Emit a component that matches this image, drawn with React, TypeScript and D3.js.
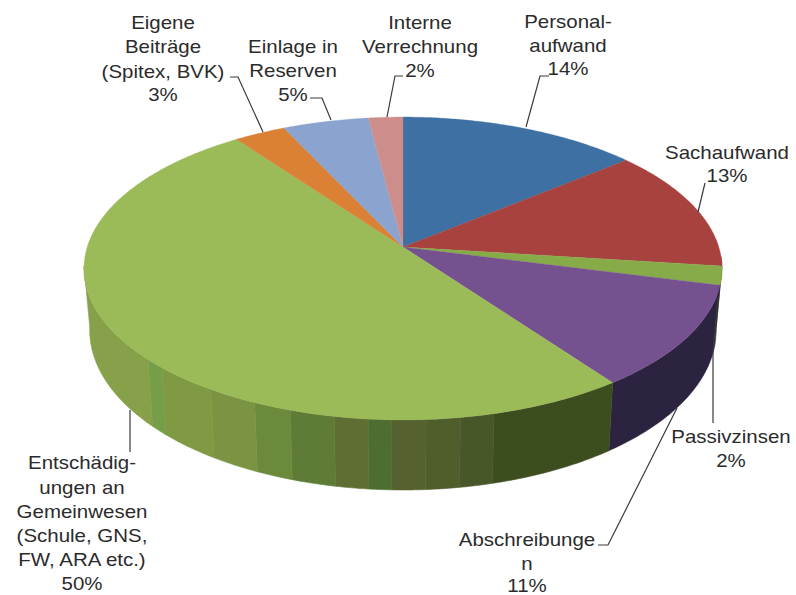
import React from "react";
import * as d3 from "d3";

// Budget shares in percent, clockwise from twelve o'clock.
const sliceNames = [
  "Personalaufwand",
  "Sachaufwand",
  "Passivzinsen",
  "Abschreibungen",
  "Entschädigungen",
  "Eigene Beiträge",
  "Einlage in Reserven",
  "Interne Verrechnung",
];
const sliceValues = [14, 13, 2, 11, 50, 3, 5, 2];
const sliceColors = ["#3e70a4", "#a8423f", "#87ab48", "#76518f", "#9bbb59", "#db8136", "#8aa3cf", "#cd8d8a"];
const wallColors = ["#2c4a6c", "#6e2b29", "#55702c", "#2c2340", "#3c4d20", "#8f5320", "#5a6b88", "#855a58"];

// Shaded strips on the large slice's wall: cumulative percent where each strip ends.
const stripEnds = [46, 47.5, 49, 50.5, 51.5, 53, 55, 56.7, 59, 62, 63, 75];
const stripColors = [
  "#3c4d20", "#48572a", "#4f5e2b", "#55622f", "#4e6d30", "#5f6f33",
  "#5f7c36", "#6b8a3c", "#7a9444", "#7f9a42", "#769e48", "#87a04a",
];

const labelLines = [
  ["Personal-", "aufwand", "14%"],
  ["Sachaufwand", "13%"],
  ["Passivzinsen", "2%"],
  ["Abschreibunge", "n", "11%"],
  ["Entschädig-", "ungen an", "Gemeinwesen", "(Schule, GNS,", "FW, ARA etc.)", "50%"],
  ["Eigene", "Beiträge", "(Spitex, BVK)", "3%"],
  ["Einlage in", "Reserven", "5%"],
  ["Interne", "Verrechnung", "2%"],
];

// Label placement: centre x, baseline of each line.
const labelAnchors: [number, number[]][] = [
  [568, [28, 52, 75]],
  [727, [159, 182]],
  [731, [443, 467]],
  [527, [546, 570, 592]],
  [82, [469, 494, 518, 542, 566, 590]],
  [163, [29, 53, 78, 101]],
  [293, [53, 77, 101]],
  [420, [29, 53, 77]],
];

const leaderPaths: [number, number][][] = [
  [[526, 127], [540, 76], [549, 76]],
  [[698, 212], [705, 183]],
  [[718, 297], [713, 353], [713, 423]],
  [[677, 408], [608, 545], [598, 545]],
  [[130, 410], [130, 452]],
  [[263, 132], [238, 77], [230, 77]],
  [[331, 120], [322, 98], [310, 98]],
  [[387, 117], [395, 76], [403, 76]],
];

// Perspective projection of the pie's top disc.
const centerX = 403;
const centerY = 247;
const radiusX = 315.8;
const radiusY = 148.4;
const tilt = 0.142;

function topPoint(a: number): [number, number] {
  const w = 1 + tilt * Math.cos(a);
  return [centerX + (radiusX * Math.sin(a)) / w, centerY - (radiusY * Math.cos(a)) / w];
}

function bottomPoint(a: number): [number, number] {
  const [x, y] = topPoint(a);
  const depth = 60 - 10 * Math.cos(a);
  return [centerX + (x - centerX) * 0.982, y + depth];
}

const rad = (pct: number) => (pct / 100) * 2 * Math.PI;
const line = d3.line<[number, number]>();

function samples(a0: number, a1: number): number[] {
  const n = Math.max(2, Math.ceil(Math.abs(a1 - a0) / 0.01));
  return d3.range(n + 1).map((i) => a0 + ((a1 - a0) * i) / n);
}

function wallPath(a0: number, a1: number): string {
  const pts = samples(a0, a1);
  return line([...pts.map(topPoint), ...pts.slice().reverse().map(bottomPoint)]) + "Z";
}

export default function App() {
  const arcs = d3.pie<number>().sort(null).startAngle(0).endAngle(2 * Math.PI)(sliceValues);
  const wallStart = rad(26);
  const wallEnd = rad(73);

  // Walls of the slices facing the viewer, except the large one, which is striped.
  const plainWalls = arcs
    .map((d, i) => ({ i, a0: Math.max(d.startAngle, wallStart), a1: Math.min(d.endAngle, wallEnd) }))
    .filter((w) => w.a1 > w.a0 && w.i !== 4);
  const largeStart = arcs[4].startAngle;
  const strips = stripEnds.map((end, i) => ({
    a0: i === 0 ? largeStart : rad(stripEnds[i - 1]),
    a1: Math.min(rad(end), wallEnd),
    color: stripColors[i],
  }));

  const font = "'Liberation Sans', Arial, sans-serif";

  return (
    <svg
      width={796}
      height={595}
      viewBox="0 0 796 595"
      style={{ position: "absolute", left: 0, top: 0, background: "#fff" }}
    >
      <g>
        {plainWalls.map((w) => (
          <path
            key={sliceNames[w.i]}
            d={wallPath(w.a0, w.a1)}
            fill={wallColors[w.i]}
            stroke={wallColors[w.i]}
            strokeWidth={0.4}
          />
        ))}
        {strips.map((s) => (
          <path key={s.color + s.a0} d={wallPath(s.a0, s.a1)} fill={s.color} stroke={s.color} strokeWidth={0.6} />
        ))}
      </g>
      <g>
        {arcs.map((d, i) => (
          <path
            key={sliceNames[i]}
            d={line([[centerX, centerY], ...samples(d.startAngle, d.endAngle).map(topPoint)]) + "Z"}
            fill={sliceColors[i]}
            stroke={sliceColors[i]}
            strokeWidth={0.3}
          />
        ))}
      </g>
      <g fill="none" stroke="#3a3a3a" strokeWidth={1.2}>
        {leaderPaths.map((p, i) => (
          <path key={i} d={line(p) ?? ""} />
        ))}
      </g>
      <g fontFamily={font} fontSize={17.5} fill="#2b2b2b" textAnchor="middle">
        {labelLines.map((lines, i) =>
          lines.map((t, j) => (
            <text
              key={i + "-" + j}
              transform={`translate(${labelAnchors[i][0]},${labelAnchors[i][1][j]}) scale(1.17,1)`}
            >
              {t}
            </text>
          )),
        )}
      </g>
    </svg>
  );
}
